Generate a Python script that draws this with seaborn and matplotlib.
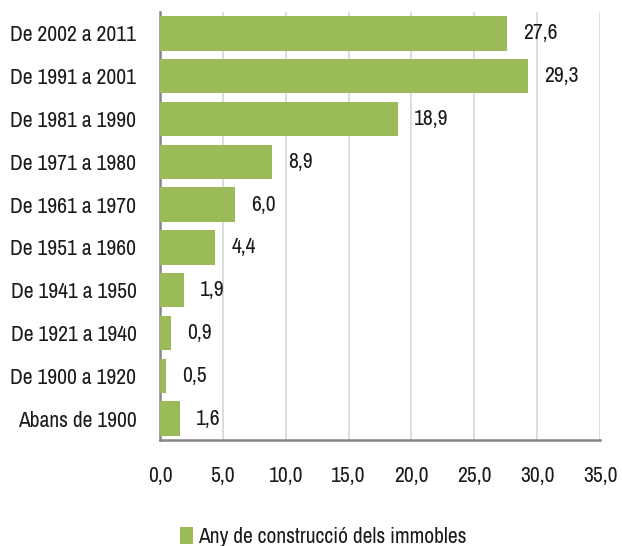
import pandas as pd
import seaborn as sns
import matplotlib.pyplot as plt
from matplotlib.patches import Patch
from matplotlib.ticker import FixedLocator

# Data
periods = ['De 2002 a 2011', 'De 1991 a 2001', 'De 1981 a 1990', 'De 1971 a 1980',
           'De 1961 a 1970', 'De 1951 a 1960', 'De 1941 a 1950', 'De 1921 a 1940',
           'De 1900 a 1920', 'Abans de 1900']
values = [27.6, 29.3, 18.9, 8.9, 6.0, 4.4, 1.9, 0.9, 0.5, 1.6]
series_name = 'Any de construcció dels immobles'

df = pd.DataFrame({'period': periods, 'value': values})

sns.set_style('white')
plt.rcParams['font.family'] = ['Archivo Narrow', 'DejaVu Sans']

green = '#9BBB59'
axis_grey = '#868686'
text_col = '#1a1a1a'
fs = 15.5

fig = plt.figure(figsize=(6.22, 5.46), dpi=100)
ax = fig.add_axes([160 / 622, 1 - 440 / 546, 440 / 622, 428 / 546])

sns.barplot(data=df, x='value', y='period', color=green, width=0.8,
            saturation=1, linewidth=0, ax=ax, zorder=3)

# Data labels
for i, v in enumerate(values):
    ax.annotate(f'{v:.1f}'.replace('.', ','), (v, i), xytext=(11.5, 0),
                textcoords='offset points', va='center', ha='left',
                fontsize=fs, color=text_col)

ax.set_xlim(0, 35)
ax.set_ylim(len(periods) - 0.5, -0.5)
ax.set_xticks(range(0, 36, 5))
ax.set_xticklabels([f'{t:.1f}'.replace('.', ',') for t in range(0, 36, 5)])
ax.xaxis.grid(True, color='#D9D9D9', linewidth=1.3, zorder=0)
ax.yaxis.grid(False)
ax.set_xlabel('')
ax.set_ylabel('')

# Tick marks on the y-axis sit between categories
ax.yaxis.set_minor_locator(FixedLocator([i - 0.5 for i in range(len(periods) + 1)]))
ax.tick_params(axis='y', which='major', length=0, pad=17, labelsize=fs, labelcolor=text_col)
ax.tick_params(axis='y', which='minor', length=4.5, width=1.3, color=axis_grey, direction='out')
ax.tick_params(axis='x', length=4.5, width=1.3, color=axis_grey, direction='out',
               pad=14, labelsize=fs, labelcolor=text_col)

for side in ['top', 'right']:
    ax.spines[side].set_visible(False)
for side in ['left', 'bottom']:
    ax.spines[side].set_color(axis_grey)
    ax.spines[side].set_linewidth(1.8)

handles = [Patch(facecolor=green, edgecolor='none', label=series_name)]
fig.legend(handles=handles, loc='center', bbox_to_anchor=(323 / 622, 1 - 537 / 546),
           frameon=False, fontsize=fs, handlelength=0.6, handleheight=0.8,
           handletextpad=0.25, labelcolor=text_col)

fig.savefig('out.png', dpi=100)
